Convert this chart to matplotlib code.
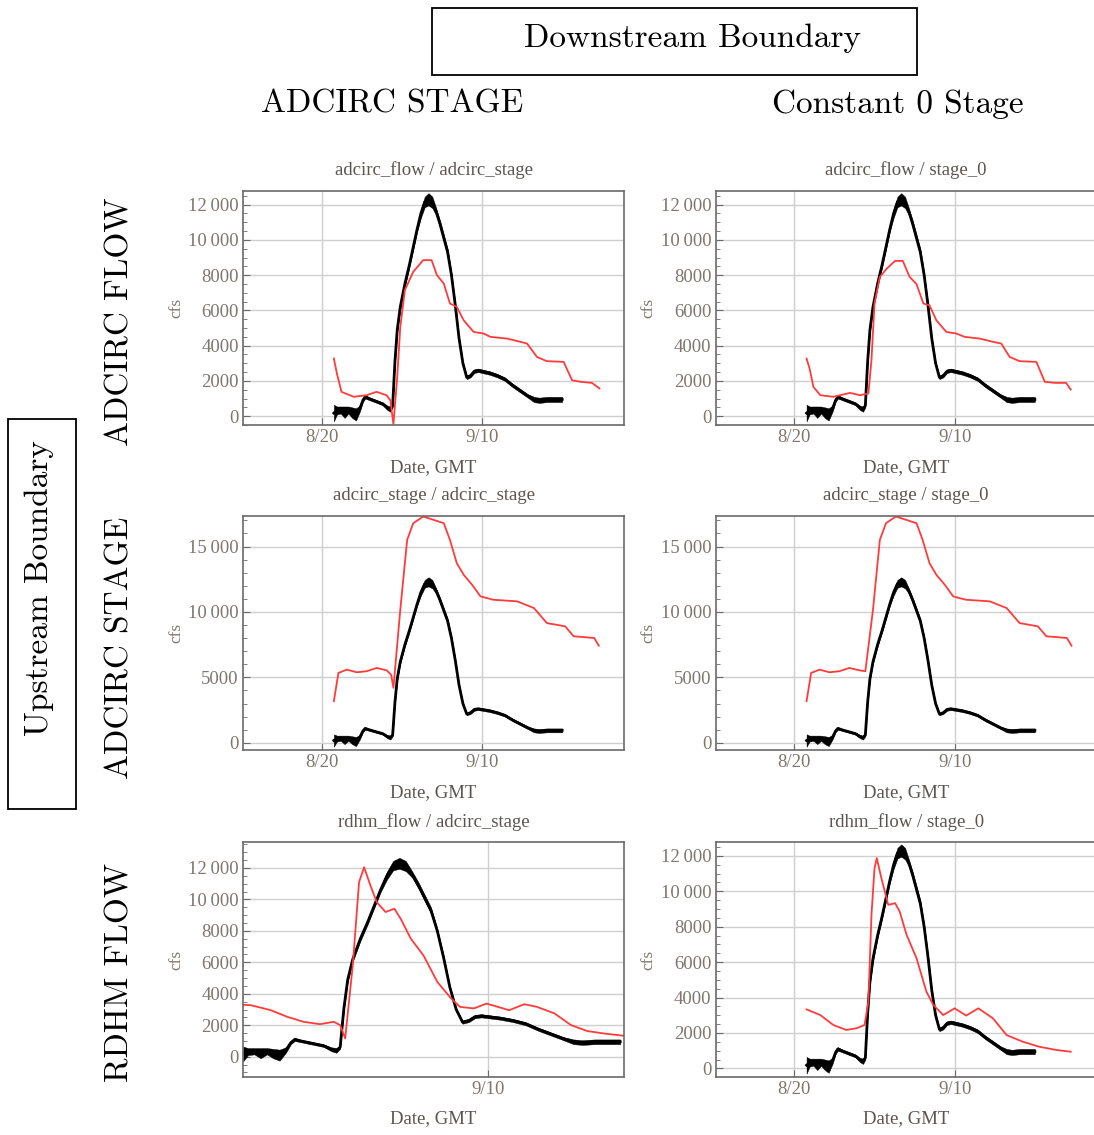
import matplotlib
matplotlib.use("Agg")
import matplotlib.pyplot as plt
from matplotlib.patches import Rectangle
from matplotlib.ticker import FixedLocator, MultipleLocator, FuncFormatter

# days counted from Aug 0 (8/20 -> 20, 9/10 -> 41)
date_ticks = [20, 41]
date_labels = ["8/20", "9/10"]

# observed flow (black, noisy band: lower / upper edge)
obs_day = [21.6, 22.0, 22.5, 23.0, 23.5, 24.0, 24.5, 25.0, 25.4, 25.7, 26.2, 26.8,
           27.4, 28.0, 28.6, 29.0, 29.3, 29.6, 29.9, 30.3, 30.9, 31.5, 32.0, 32.5,
           33.0, 33.5, 34.0, 34.5, 35.0, 35.5, 36.0, 36.5, 37.0, 37.5, 38.0, 38.5,
           39.0, 39.5, 40.0, 40.5, 41.0, 42.0, 43.0, 44.0, 45.0, 46.0, 47.0, 47.8,
           48.5, 49.5, 50.5, 51.5]
obs_lo = [-300, 100, 150, -100, 150, -100, -250, 250, 800, 1000, 920, 820,
          720, 620, 350, 250, 500, 2950, 4750, 6050, 7350, 8450, 9450, 10450,
          11250, 11850, 11950, 11800, 11400, 10700, 9900, 9100, 7850, 6150, 4300, 2900,
          2100, 2200, 2450, 2500, 2450, 2350, 2200, 2000, 1650, 1350, 1050, 800,
          750, 800, 800, 800]
obs_hi = [650, 550, 550, 550, 550, 500, 450, 600, 1000, 1200, 1080, 980,
          880, 780, 600, 550, 700, 3250, 5050, 6350, 7650, 8750, 9750, 10750,
          11750, 12450, 12650, 12450, 11800, 11100, 10300, 9500, 8150, 6450, 4500, 3100,
          2300, 2400, 2650, 2700, 2650, 2550, 2400, 2200, 1850, 1550, 1250, 1100,
          1050, 1100, 1100, 1100]

# simulated flow (red) per run
flow_stage_day = [21.6, 22.0, 22.6, 24.2, 25.9, 27.2, 28.5, 29.0, 29.4, 29.9, 30.3, 30.9,
                  32.0, 33.3, 34.4, 35.1, 36.0, 36.8, 37.7, 38.6, 39.9, 41.2, 42.1, 44.3,
                  46.0, 46.9, 48.2, 49.5, 51.7, 52.8, 53.9, 55.4, 56.4]
flow_stage_cfs = [3270, 2420, 1380, 1100, 1190, 1380, 1190, 900, -450, 2230, 5070, 7150,
                  8190, 8850, 8850, 8000, 7520, 6390, 6200, 5440, 4780, 4690, 4500, 4400,
                  4220, 4120, 3360, 3120, 3080, 2040, 1950, 1890, 1570]

flow_stage0_day = [21.6, 22.0, 22.5, 23.4, 25.1, 27.3, 28.6, 29.7, 30.1, 30.5, 31.2, 32.1,
                   33.2, 34.2, 35.1, 36.0, 36.9, 37.7, 38.6, 39.9, 41.2, 42.3, 44.3, 46.0,
                   47.1, 48.2, 49.5, 51.7, 52.8, 54.1, 55.6, 56.2]
flow_stage0_cfs = [3270, 2700, 1660, 1190, 1100, 1320, 1190, 1290, 3180, 6390, 7900, 8370,
                   8810, 8810, 7900, 7490, 6390, 6290, 5440, 4780, 4690, 4500, 4400, 4220,
                   4120, 3360, 3120, 3080, 1950, 1890, 1890, 1510]

stage_stage_day = [21.6, 22.2, 23.3, 24.6, 25.9, 27.2, 28.5, 29.1, 29.4, 30.3, 31.2, 32.0,
                   33.3, 34.7, 36.0, 36.8, 37.7, 38.6, 39.7, 40.8, 42.5, 45.6, 47.8, 49.5,
                   51.9, 53.0, 55.7, 56.3]
stage_stage_cfs = [3180, 5340, 5590, 5390, 5470, 5720, 5540, 5210, 4200, 10170, 15510, 16780,
                   17290, 17030, 16780, 15510, 13730, 12840, 12080, 11190, 10930, 10810, 10300, 9150,
                   8900, 8140, 8010, 7420]

stage_stage0_day = [21.6, 22.2, 23.3, 24.6, 25.9, 27.2, 28.5, 29.3, 30.3, 31.2, 32.0,
                    33.3, 34.7, 36.0, 36.8, 37.7, 38.6, 39.7, 40.8, 42.5, 45.6, 47.8, 49.5,
                    51.9, 53.0, 55.7, 56.3]
stage_stage0_cfs = [3180, 5340, 5590, 5390, 5470, 5720, 5540, 5470, 10170, 15510, 16780,
                    17290, 17030, 16780, 15510, 13730, 12840, 12080, 11190, 10930, 10810, 10300, 9150,
                    8900, 8140, 8010, 7420]

rdhm_stage_day = [21.6, 22.2, 23.8, 25.1, 26.4, 27.7, 28.8, 29.3, 29.7, 30.3, 30.8, 31.2,
                  31.7, 32.2, 32.9, 33.6, 34.1, 34.9, 35.9, 37.0, 38.1, 38.8, 39.9, 40.9,
                  41.8, 42.7, 43.9, 44.9, 46.3, 47.6, 48.9, 50.2, 51.8]
rdhm_stage_cfs = [3300, 3280, 2960, 2540, 2220, 2070, 2220, 2010, 1160, 5810, 11100, 12050,
                  10890, 9830, 9200, 9410, 8770, 7510, 6450, 4760, 3700, 3170, 3070, 3380,
                  3170, 2960, 3340, 3170, 2750, 2010, 1630, 1480, 1330]

rdhm_stage0_day = [21.6, 23.4, 25.1, 26.8, 28.1, 29.2, 29.7, 30.1, 30.5, 30.8, 31.4, 32.3,
                   33.2, 33.8, 34.7, 36.0, 37.3, 38.2, 39.5, 41.0, 42.5, 44.1, 46.0, 47.8,
                   49.9, 52.1, 54.3, 56.2]
rdhm_stage0_cfs = [3330, 3010, 2450, 2170, 2260, 2450, 3770, 8670, 11300, 11870, 10740, 9230,
                   9330, 8850, 7540, 6220, 4330, 3580, 3010, 3390, 2980, 3390, 2830, 1880,
                   1510, 1220, 1040, 940]

titles = ["adcirc_flow / adcirc_stage", "adcirc_flow / stage_0",
          "adcirc_stage / adcirc_stage", "adcirc_stage / stage_0",
          "rdhm_flow / adcirc_stage", "rdhm_flow / stage_0"]
col_labels = ["ADCIRC STAGE", "Constant 0 Stage"]
row_labels = ["ADCIRC FLOW", "ADCIRC STAGE", "RDHM FLOW"]

W, H = 1094, 1135
TICK_COLOR = "#7d7770"
TEXT_COLOR = "#5a5550"
SERIF = ["Liberation Serif", "DejaVu Serif"]


def cfs_fmt(v, pos):
    v = int(round(v))
    if abs(v) >= 10000:
        return "%d\u2009%03d" % (v // 1000, v % 1000)
    return "%d" % v


def panel(fig, rect, day, cfs, title, xlim, ylim, ystep, yminor):
    ax = fig.add_axes(rect)
    obs_mid = [(a + b) / 2 for a, b in zip(obs_lo, obs_hi)]
    ax.fill_between(obs_day, obs_lo, obs_hi, color="black", lw=0.3)
    ax.plot(obs_day, obs_mid, color="black", lw=2.0)
    ax.plot(day, cfs, color="#ff3b3b", lw=1.3)
    ax.set_xlim(*xlim)
    ax.set_ylim(*ylim)
    ax.xaxis.set_major_locator(FixedLocator(date_ticks))
    ax.set_xticklabels(date_labels)
    ax.yaxis.set_major_locator(MultipleLocator(ystep))
    ax.yaxis.set_minor_locator(MultipleLocator(yminor))
    ax.yaxis.set_major_formatter(FuncFormatter(cfs_fmt))
    ax.grid(True, which="major", color="#cfcfcf", lw=1.0)
    ax.set_axisbelow(True)
    for s in ax.spines.values():
        s.set_color("#6a6a6a")
        s.set_linewidth(1.2)
    ax.tick_params(axis="both", which="major", length=5, width=0.8, color="#6a6a6a",
                   labelcolor=TICK_COLOR, labelsize=13.5, direction="in", pad=3)
    ax.tick_params(axis="y", which="minor", length=3, width=0.6, color="#6a6a6a", direction="in")
    for lab in ax.get_xticklabels() + ax.get_yticklabels():
        lab.set_family(SERIF)
    ax.set_title(title, family=SERIF, fontsize=13.5, color=TEXT_COLOR, pad=11)
    ax.set_xlabel("Date, GMT", family=SERIF, fontsize=13.5, color=TEXT_COLOR, labelpad=9)
    ax.set_ylabel("cfs", family=SERIF, fontsize=12.5, color=TICK_COLOR, labelpad=3)
    return ax


def main():
    fig = plt.figure(figsize=(W / 100, H / 100), dpi=100)
    fig.patch.set_facecolor("white")

    lefts = [243 / W, 715.7 / W]
    width = 381 / W
    bottoms = [1 - 425 / H, 1 - 750 / H, 1 - 1076.7 / H]
    height = 234.5 / H

    full = (9.7, 59.6)
    runs = [
        (flow_stage_day, flow_stage_cfs, full, (-500, 12800), 2000, 500),
        (flow_stage0_day, flow_stage0_cfs, full, (-500, 12800), 2000, 500),
        (stage_stage_day, stage_stage_cfs, full, (-550, 17370), 5000, 1000),
        (stage_stage0_day, stage_stage0_cfs, full, (-550, 17370), 5000, 1000),
        (rdhm_stage_day, rdhm_stage_cfs, (21.6, 51.8), (-1270, 13640), 2000, 500),
        (rdhm_stage0_day, rdhm_stage0_cfs, full, (-470, 12770), 2000, 500),
    ]
    for i, (day, cfs, xl, yl, ys, ym) in enumerate(runs):
        r, c = divmod(i, 2)
        panel(fig, [lefts[c], bottoms[r], width, height], day, cfs, titles[i], xl, yl, ys, ym)

    big = dict(family=["cmr10", "DejaVu Serif"], color="black")
    # boxes drawn as plain rectangles in figure pixels
    fig.patches.append(Rectangle((432 / W, 1 - 75 / H), 485 / W, 67 / H, transform=fig.transFigure,
                                 fill=False, ec="black", lw=1.3))
    fig.patches.append(Rectangle((8 / W, 1 - 809 / H), 68 / W, 390 / H, transform=fig.transFigure,
                                 fill=False, ec="black", lw=1.3))
    fig.text(692 / W, 1 - 38 / H, "Downstream Boundary", fontsize=24, ha="center", va="center", **big)
    fig.text(392 / W, 1 - 104 / H, col_labels[0], fontsize=24, ha="center", va="center", **big)
    fig.text(898 / W, 1 - 104 / H, col_labels[1], fontsize=24, ha="center", va="center", **big)
    fig.text(39 / W, 1 - 588 / H, "Upstream Boundary", fontsize=24, rotation=90,
             ha="center", va="center", **big)
    for lab, yc in zip(row_labels, [322, 648, 972]):
        fig.text(120 / W, 1 - yc / H, lab, fontsize=24, rotation=90, ha="center", va="center", **big)

    fig.savefig("out.png", dpi=100)


if __name__ == "__main__":
    main()
